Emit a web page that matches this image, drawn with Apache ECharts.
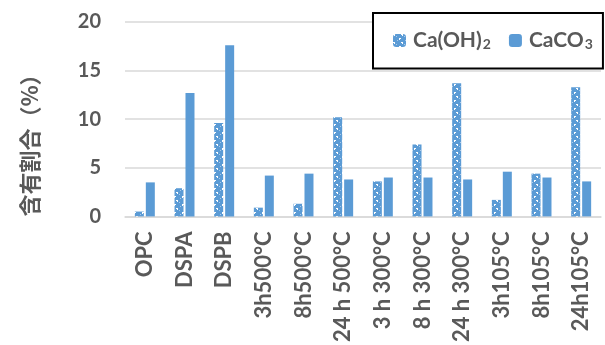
<!DOCTYPE html>
<html><head><meta charset="utf-8">
<script src="https://cdn.jsdelivr.net/npm/echarts@6/dist/echarts.min.js"></script>
<style>html,body{margin:0;padding:0;background:#fff}#c{width:605px;height:345px}</style>
</head><body><div id="c"></div>
<script>
const categories = ["OPC","DSPA","DSPB","3h500°C","8h500°C","24 h 500°C","3 h 300°C","8 h 300°C","24 h 300°C","3h105°C","8h105°C","24h105°C"];
const caOH2 = [0.5, 2.9, 9.6, 0.9, 1.3, 10.2, 3.6, 7.4, 13.7, 1.7, 4.4, 13.3];
const caCO3 = [3.5, 12.7, 17.6, 4.2, 4.4, 3.8, 4.0, 4.0, 3.8, 4.6, 4.0, 3.6];
const yTicks = [0, 5, 10, 15, 20];
const seriesNames = ["Ca(OH)₂", "CaCO₃"];
const legendRich = {"Ca(OH)₂": "Ca(OH){s|2}", "CaCO₃": "CaCO{s|3}"};
const yName = "含有割合（%）";

const BLUE = '#5B9BD5';
const tile = document.createElement('canvas');
tile.width = 8; tile.height = 8;
const tc = tile.getContext('2d');
tc.fillStyle = BLUE; tc.fillRect(0,0,8,8);
tc.fillStyle = '#ffffff';
tc.fillRect(0,0,2,1); tc.fillRect(1,1,1,1);
tc.fillRect(6,4,2,1); tc.fillRect(6,5,1,1);
tc.fillStyle = '#a9c9ea';
tc.fillRect(3,2,1,1); tc.fillRect(4,6,1,1);
const pattern = {image: tile, repeat: 'repeat'};

const chart = echarts.init(document.getElementById('c'), null, {renderer:'canvas'});
const font = 'Lato, "Noto Sans CJK JP", sans-serif';
chart.setOption({
  animation: false,
  grid: {left: 125, right: 4, top: 22, bottom: 128, containLabel: false},
  legend: {
    left: 373, top: 13,
    orient: 'horizontal',
    padding: [17, 10, 17, 20],
    borderColor: '#000', borderWidth: 2, backgroundColor: '#fff',
    itemWidth: 13, itemHeight: 13, itemGap: 18,
    formatter: n => legendRich[n],
    textStyle: {fontFamily: font, fontWeight: 'bold', fontSize: 21, color: '#595959', padding: [0,0,0,2],
      rich: {s: {fontFamily: font, fontWeight: 'bold', fontSize: 14, color: '#595959', verticalAlign: 'bottom', padding: [8,0,0,1]}}},
    data: seriesNames
  },
  xAxis: {
    type: 'category', data: categories,
    axisLine: {lineStyle: {color: '#d9d9d9', width: 1.5}},
    axisTick: {show: false},
    axisLabel: {rotate: 90, interval: 0, margin: 15, fontFamily: font, fontWeight: 'bold', fontSize: 22, color: '#595959'}
  },
  yAxis: {
    type: 'value', min: yTicks[0], max: yTicks[yTicks.length-1], interval: 5,
    axisLine: {show: false}, axisTick: {show: false},
    splitLine: {lineStyle: {color: '#d9d9d9', width: 1.5}},
    axisLabel: {margin: 24, fontFamily: font, fontWeight: 'bold', fontSize: 20, color: '#595959'}
  },
  graphic: [{
    type: 'text', x: 30, y: 140, rotation: Math.PI/2,
    style: {text: yName, fontFamily: '"Noto Sans CJK JP", sans-serif', fontWeight: 'bold', fontSize: 22, fill: '#595959', align: 'center', verticalAlign: 'middle'}
  }],
  series: [
    {name: seriesNames[0], type: 'bar', data: caOH2, barWidth: 9, barGap: '22%', itemStyle: {color: pattern}},
    {name: seriesNames[1], type: 'bar', data: caCO3, barWidth: 9, barGap: '22%', itemStyle: {color: BLUE}}
  ]
});
</script></body></html>
